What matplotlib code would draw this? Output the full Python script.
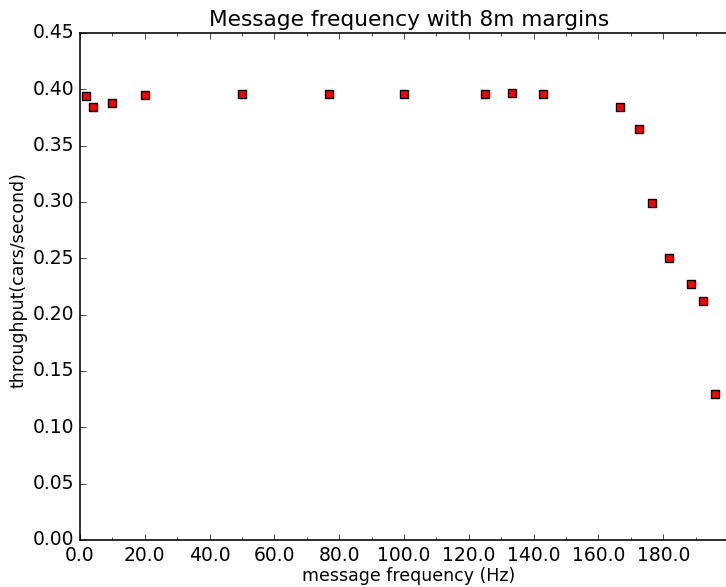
import matplotlib
matplotlib.use("Agg")
import matplotlib.pyplot as plt
from matplotlib.ticker import FixedLocator, MultipleLocator, FormatStrFormatter

plt.style.use('classic')

# message frequency (Hz) and measured throughput
freq = [2.0, 4.0, 10.0, 20.0, 50.0, 76.9, 100.0, 125.0, 133.3, 142.9,
        166.7, 172.4, 176.5, 181.8, 188.7, 192.3, 196.1]
throughput = [0.394, 0.384, 0.388, 0.395, 0.396, 0.396, 0.396, 0.396, 0.397, 0.396,
              0.384, 0.365, 0.299, 0.250, 0.227, 0.212, 0.130]
xticks = [0, 20, 40, 60, 80, 100, 120, 140, 160, 180]
xminor = [10, 30, 50, 70, 90, 110, 130, 150, 170, 190]

fig = plt.figure(figsize=(7.26, 5.87), dpi=100)
# axes run past the right edge of the figure, as in the reference
ax = fig.add_axes([0.1102, 0.0801, 0.906, 0.8637])

ax.plot(freq, throughput, 's', color='red', markeredgecolor='black',
        markersize=6.3, markeredgewidth=1.0)

ax.set_xlim(0, 203)
ax.set_ylim(0, 0.45)
ax.xaxis.set_major_locator(FixedLocator(xticks))
ax.xaxis.set_minor_locator(FixedLocator(xminor))
ax.xaxis.set_major_formatter(FormatStrFormatter('%.1f'))
ax.yaxis.set_major_locator(MultipleLocator(0.05))
ax.yaxis.set_major_formatter(FormatStrFormatter('%.2f'))
ax.tick_params(labelsize=13.5)
for sp in ax.spines.values():
    sp.set_linewidth(1.15)

ax.set_title('Message frequency with 8m margins', fontsize=15.6)
ax.set_xlabel('message frequency (Hz)', fontsize=12.5, labelpad=2)
ax.set_ylabel('throughput(cars/second)', fontsize=12.5)
ax.yaxis.set_label_coords(-0.08, 0.513)

fig.savefig('out.png', dpi=100)
